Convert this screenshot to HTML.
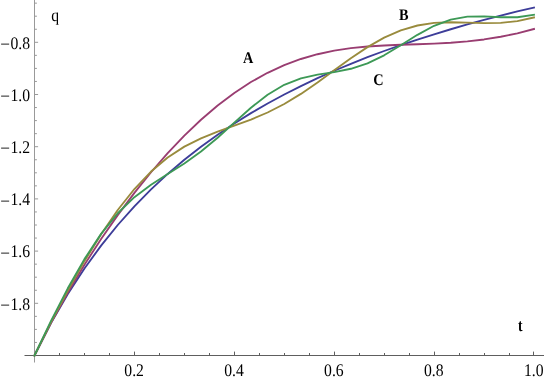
<!DOCTYPE html>
<html><head><meta charset="utf-8"><title>Plot</title>
<style>
html,body{margin:0;padding:0;background:#fff;}
body{width:545px;height:382px;overflow:hidden;font-family:"Liberation Serif",serif;}
svg{display:block;will-change:transform;}
</style></head><body>
<svg width="545" height="382" viewBox="0 0 545 382">
<rect width="545" height="382" fill="#fff"/>
<path d="M34.5,0 V362.5 M34.5,342.45 h2.4 M34.5,329.40 h2.4 M34.5,316.35 h2.4 M34.5,303.30 h3.6 M34.5,290.25 h2.4 M34.5,277.20 h2.4 M34.5,264.15 h2.4 M34.5,251.10 h3.6 M34.5,238.05 h2.4 M34.5,225.00 h2.4 M34.5,211.95 h2.4 M34.5,198.90 h3.6 M34.5,185.85 h2.4 M34.5,172.80 h2.4 M34.5,159.75 h2.4 M34.5,146.70 h3.6 M34.5,133.65 h2.4 M34.5,120.60 h2.4 M34.5,107.55 h2.4 M34.5,94.50 h3.6 M34.5,81.45 h2.4 M34.5,68.40 h2.4 M34.5,55.35 h2.4 M34.5,42.30 h3.6 M34.5,29.25 h2.4 M34.5,16.20 h2.4 M34.5,3.15 h2.4" stroke="#999" stroke-width="1" fill="none"/>
<path d="M24.5,355.5 H544 M59.50,355.5 v-2.5 M84.50,355.5 v-2.5 M109.50,355.5 v-2.5 M134.50,355.5 v-3.9 M159.50,355.5 v-2.5 M184.50,355.5 v-2.5 M209.50,355.5 v-2.5 M234.50,355.5 v-3.9 M259.50,355.5 v-2.5 M284.50,355.5 v-2.5 M309.50,355.5 v-2.5 M334.50,355.5 v-3.9 M359.50,355.5 v-2.5 M384.50,355.5 v-2.5 M409.50,355.5 v-2.5 M434.50,355.5 v-3.9 M459.50,355.5 v-2.5 M484.50,355.5 v-2.5 M509.50,355.5 v-2.5 M533.50,355.5 v-3.9" stroke="#5e5e5e" stroke-width="1" fill="none"/>
<path d="M34.50,355.50 L51.15,322.88 L67.80,294.09 L84.45,268.50 L101.10,245.61 L117.75,225.00 L134.40,206.36 L151.05,189.41 L167.70,173.93 L184.35,159.75 L201.00,146.70 L217.65,134.65 L234.30,123.50 L250.95,113.14 L267.60,103.50 L284.25,94.50 L300.90,86.08 L317.55,78.19 L334.20,70.77 L350.85,63.79 L367.50,57.21 L384.15,51.00 L400.80,45.12 L417.45,39.55 L434.10,34.27 L450.75,29.25 L467.40,24.48 L484.05,19.93 L500.70,15.59 L517.35,11.45 L534.00,7.50" stroke="#3d3d99" stroke-width="1.85" fill="none" stroke-linejoin="round" stroke-linecap="square"/>
<path d="M34.50,355.50 L51.15,322.51 L67.80,292.44 L84.45,264.74 L101.10,239.05 L117.75,215.15 L134.40,192.90 L151.05,172.24 L167.70,153.14 L184.35,135.63 L201.00,119.74 L217.65,105.50 L234.30,92.93 L250.95,82.03 L267.60,72.79 L284.25,65.14 L300.90,58.99 L317.55,54.23 L334.20,50.69 L350.85,48.19 L367.50,46.52 L384.15,45.47 L400.80,44.79 L417.45,44.26 L434.10,43.66 L450.75,42.77 L467.40,41.42 L484.05,39.46 L500.70,36.77 L517.35,33.29 L534.00,28.99" stroke="#993d71" stroke-width="1.85" fill="none" stroke-linejoin="round" stroke-linecap="square"/>
<path d="M34.50,355.50 L51.15,321.89 L67.80,290.47 L84.45,261.15 L101.10,234.19 L117.75,210.01 L134.40,189.03 L151.05,171.52 L167.70,157.49 L184.35,146.63 L201.00,138.30 L217.65,131.66 L234.30,125.74 L250.95,119.62 L267.60,112.52 L284.25,103.98 L300.90,93.89 L317.55,82.49 L334.20,70.37 L350.85,58.29 L367.50,47.12 L384.15,37.62 L400.80,30.33 L417.45,25.49 L434.10,22.94 L450.75,22.21 L467.40,22.55 L484.05,23.05 L500.70,22.81 L517.35,21.11 L534.00,17.46" stroke="#998b3d" stroke-width="1.85" fill="none" stroke-linejoin="round" stroke-linecap="square"/>
<path d="M34.50,355.50 L51.15,320.58 L67.80,288.31 L84.45,259.12 L101.10,233.87 L117.75,213.24 L134.40,197.17 L151.05,184.67 L167.70,174.07 L184.35,163.50 L201.00,151.54 L217.65,137.71 L234.30,122.63 L250.95,107.73 L267.60,94.68 L284.25,84.77 L300.90,78.33 L317.55,74.62 L334.20,72.05 L350.85,68.76 L367.50,63.34 L384.15,55.30 L400.80,45.29 L417.45,34.84 L434.10,25.78 L450.75,19.54 L467.40,16.64 L484.05,16.41 L500.70,17.28 L517.35,17.27 L534.00,14.72" stroke="#3d9956" stroke-width="1.85" fill="none" stroke-linejoin="round" stroke-linecap="square"/>
<text transform="translate(134.10,375.80) scale(0.98,1.11)" font-family="Liberation Serif, serif" text-rendering="geometricPrecision" font-size="16" text-anchor="middle" fill="#000">0.2</text>
<text transform="translate(234.00,375.80) scale(0.98,1.11)" font-family="Liberation Serif, serif" text-rendering="geometricPrecision" font-size="16" text-anchor="middle" fill="#000">0.4</text>
<text transform="translate(333.90,375.80) scale(0.98,1.11)" font-family="Liberation Serif, serif" text-rendering="geometricPrecision" font-size="16" text-anchor="middle" fill="#000">0.6</text>
<text transform="translate(433.80,375.80) scale(0.98,1.11)" font-family="Liberation Serif, serif" text-rendering="geometricPrecision" font-size="16" text-anchor="middle" fill="#000">0.8</text>
<text transform="translate(533.70,375.80) scale(0.98,1.11)" font-family="Liberation Serif, serif" text-rendering="geometricPrecision" font-size="16" text-anchor="middle" fill="#000">1.0</text>
<text transform="translate(30.10,48.50) scale(0.98,1.11)" font-family="Liberation Serif, serif" text-rendering="geometricPrecision" font-size="16" text-anchor="end" fill="#000">0.8</text>
<text transform="translate(10.00,49.95) scale(1.08,1.11)" font-family="Liberation Serif, serif" text-rendering="geometricPrecision" font-size="16" text-anchor="end" fill="#000">−</text>
<text transform="translate(30.10,100.70) scale(0.98,1.11)" font-family="Liberation Serif, serif" text-rendering="geometricPrecision" font-size="16" text-anchor="end" fill="#000">1.0</text>
<text transform="translate(10.00,102.15) scale(1.08,1.11)" font-family="Liberation Serif, serif" text-rendering="geometricPrecision" font-size="16" text-anchor="end" fill="#000">−</text>
<text transform="translate(30.10,152.90) scale(0.98,1.11)" font-family="Liberation Serif, serif" text-rendering="geometricPrecision" font-size="16" text-anchor="end" fill="#000">1.2</text>
<text transform="translate(10.00,154.35) scale(1.08,1.11)" font-family="Liberation Serif, serif" text-rendering="geometricPrecision" font-size="16" text-anchor="end" fill="#000">−</text>
<text transform="translate(30.10,205.10) scale(0.98,1.11)" font-family="Liberation Serif, serif" text-rendering="geometricPrecision" font-size="16" text-anchor="end" fill="#000">1.4</text>
<text transform="translate(10.00,206.55) scale(1.08,1.11)" font-family="Liberation Serif, serif" text-rendering="geometricPrecision" font-size="16" text-anchor="end" fill="#000">−</text>
<text transform="translate(30.10,257.30) scale(0.98,1.11)" font-family="Liberation Serif, serif" text-rendering="geometricPrecision" font-size="16" text-anchor="end" fill="#000">1.6</text>
<text transform="translate(10.00,258.75) scale(1.08,1.11)" font-family="Liberation Serif, serif" text-rendering="geometricPrecision" font-size="16" text-anchor="end" fill="#000">−</text>
<text transform="translate(30.10,309.50) scale(0.98,1.11)" font-family="Liberation Serif, serif" text-rendering="geometricPrecision" font-size="16" text-anchor="end" fill="#000">1.8</text>
<text transform="translate(10.00,310.95) scale(1.08,1.11)" font-family="Liberation Serif, serif" text-rendering="geometricPrecision" font-size="16" text-anchor="end" fill="#000">−</text>
<text transform="translate(51.30,20.90) scale(0.98,1.11)" font-family="Liberation Serif, serif" text-rendering="geometricPrecision" font-size="16" text-anchor="start" fill="#000">q</text>
<text transform="translate(518.10,331.30) scale(0.93,1.2)" font-family="Liberation Serif, serif" text-rendering="geometricPrecision" font-size="14.6" text-anchor="start" font-weight="bold" fill="#000">t</text>
<text transform="translate(243.00,63.20) scale(0.98,1.11)" font-family="Liberation Serif, serif" text-rendering="geometricPrecision" font-size="14.6" text-anchor="start" font-weight="bold" fill="#000">A</text>
<text transform="translate(399.10,19.80) scale(0.98,1.11)" font-family="Liberation Serif, serif" text-rendering="geometricPrecision" font-size="14.6" text-anchor="start" font-weight="bold" fill="#000">B</text>
<text transform="translate(373.20,85.40) scale(0.98,1.11)" font-family="Liberation Serif, serif" text-rendering="geometricPrecision" font-size="14.6" text-anchor="start" font-weight="bold" fill="#000">C</text>
</svg>
</body></html>
